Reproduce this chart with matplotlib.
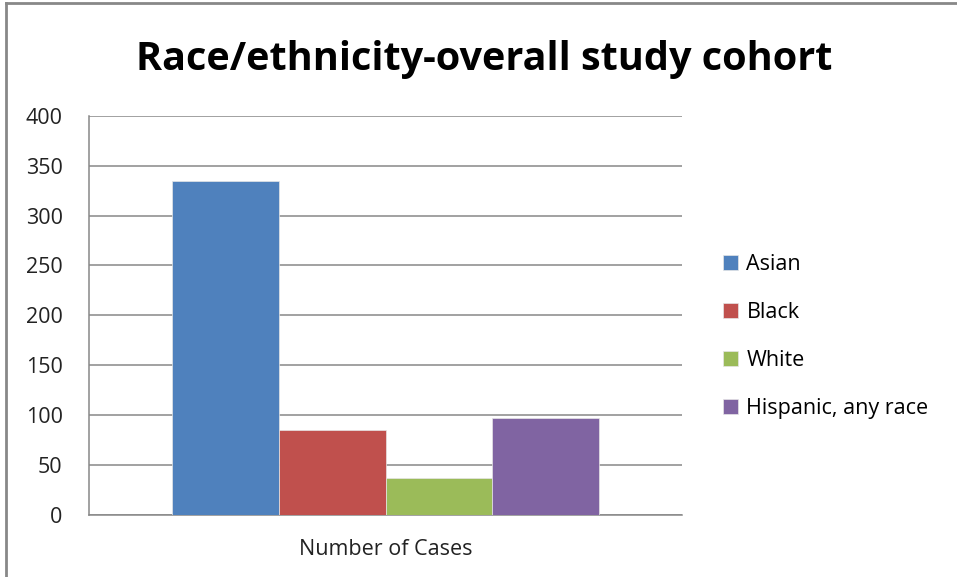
import matplotlib
matplotlib.use('Agg')
import matplotlib.pyplot as plt
from matplotlib.lines import Line2D

# Study cohort counts by race/ethnicity
groups = ['Asian', 'Black', 'White', 'Hispanic, any race']
cases = [335, 85, 37, 97]
colors = ['#4F81BD', '#C0504D', '#9BBB59', '#8064A2']
category = 'Number of Cases'

plt.rcParams['font.family'] = ['Open Sans', 'DejaVu Sans']

fig = plt.figure(figsize=(9.57, 5.77), dpi=100)
ax = fig.add_axes([0.093, 0.1075, 0.6197, 0.692])

width = 0.18
offsets = [(i - 1.5) * width for i in range(len(groups))]
for off, val, col, name in zip(offsets, cases, colors, groups):
    ax.bar(off, val, width=width, color=col, edgecolor='#e6e6e6', linewidth=0.5,
           label=name, zorder=3)

ax.set_xlim(-0.5, 0.5)
ax.set_ylim(0, 400)
ax.set_yticks(range(0, 401, 50))
ax.set_xticks([0])
ax.set_xticklabels([category])
ax.tick_params(axis='both', length=0, labelsize=15.5, colors='#222222')
ax.tick_params(axis='y', pad=19)
ax.tick_params(axis='x', pad=17)

ax.grid(axis='y', color='#888888', linewidth=1.1, zorder=0)
for s in ['top', 'right']:
    ax.spines[s].set_visible(False)
for s in ['left', 'bottom']:
    ax.spines[s].set_color('#888888')
    ax.spines[s].set_linewidth(1.1)

fig.text(0.506, 0.878, 'Race/ethnicity-overall study cohort', ha='center',
         va='baseline', fontsize=28.5, fontweight='bold')

fig.legend(loc='center left', bbox_to_anchor=(0.744, 0.417), frameon=False,
           fontsize=15.5, handlelength=0.7, handleheight=0.7, handletextpad=0.4,
           labelspacing=1.25, borderpad=0)

# thin gray frame along the top and left edges
fig.add_artist(Line2D([0.006, 0.006], [0, 0.995], transform=fig.transFigure,
                      color='#888888', linewidth=2))
fig.add_artist(Line2D([0.006, 1.0], [0.995, 0.995], transform=fig.transFigure,
                      color='#888888', linewidth=2))

fig.savefig('out.png', dpi=100)
